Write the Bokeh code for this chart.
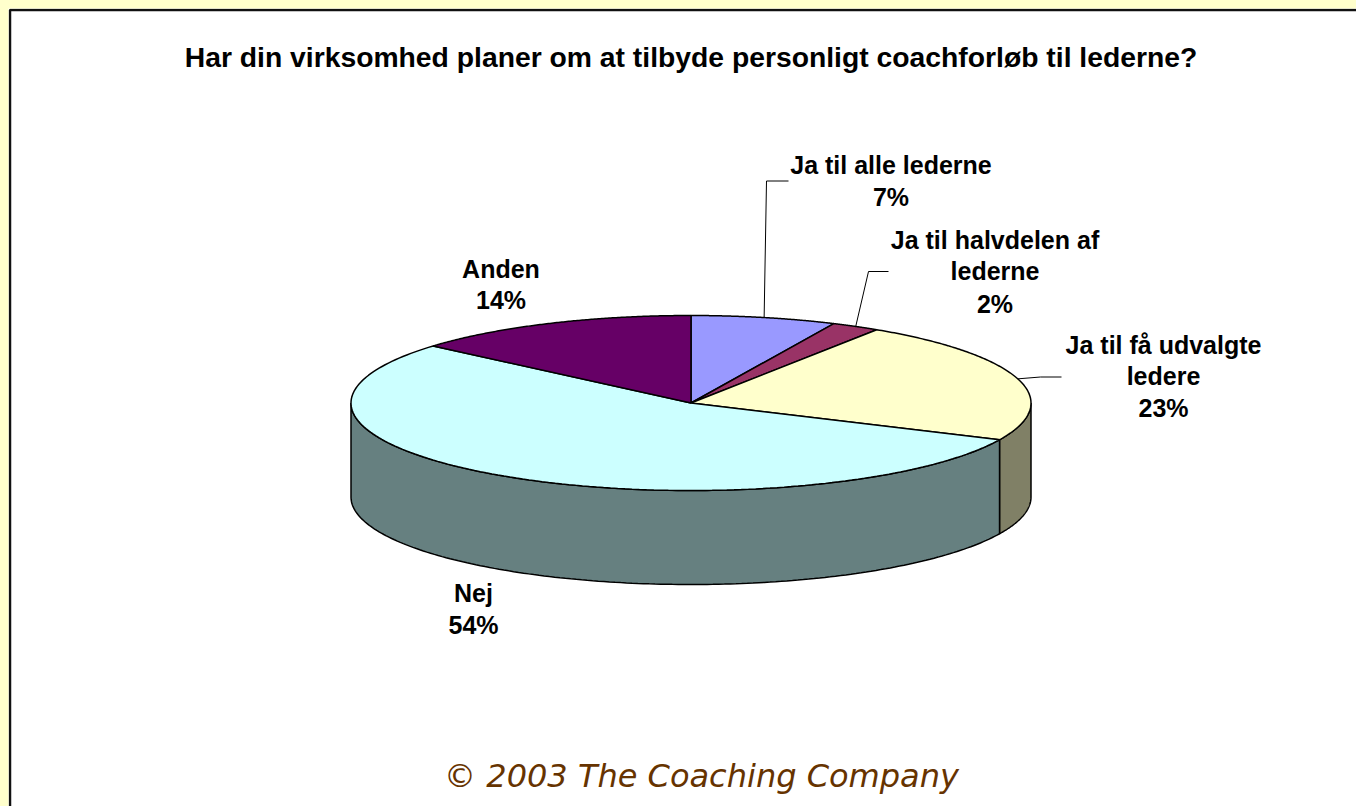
import numpy as np
from bokeh.plotting import figure
from bokeh.models import Range1d
from bokeh.core.properties import value
from bokeh.embed import file_html
from bokeh.resources import INLINE

# --- data (clockwise from 12 o'clock) ---
categories = ["Ja til alle lederne", "Ja til halvdelen af lederne", "Ja til få udvalgte ledere", "Nej", "Anden"]
slice_values = [6.9, 2.3, 22.7, 54.4, 13.7]
top_colors = ["#9999FF", "#993366", "#FFFFCC", "#CCFFFF", "#660066"]
side_colors = ["#4D4D80", "#4D1A33", "#808066", "#668080", "#330033"]
label_lines = [["Ja til alle lederne", "7%"], ["Ja til halvdelen af", "lederne", "2%"],
               ["Ja til få udvalgte", "ledere", "23%"], ["Nej", "54%"], ["Anden", "14%"]]
title = "Har din virksomhed planer om at tilbyde personligt coachforløb til lederne?"
footer = "© 2003 The Coaching Company"

# --- layout (data space equals page pixels) ---
CX, CY, RX, RY, DEPTH = 690.5, 402.5, 340, 87.5, 94
label_x = [890.5, 994.5, 1163, 473, 500.5]
label_y = [[164, 196], [239.5, 270.5, 303], [344, 375, 407], [592, 624], [268, 299]]
elbows = {0: [(766, 180.5), (788, 180.5)], 1: [(868, 271), (888, 271)], 2: [(1040, 376.5), (1061, 376.5)]}

p = figure(width=1348, height=798, x_range=Range1d(8, 1356), y_range=Range1d(806, 8),
           output_backend="svg", toolbar_location=None, min_border=0,
           x_axis_location=None, y_axis_location=None, background_fill_color="white",
           border_fill_color="white", outline_line_color=None)
p.grid.visible = False


def ex(t):
    return CX + RX * np.sin(t)


def ey(t):
    return CY - RY * np.cos(t)


edges = np.cumsum([0] + slice_values) / sum(slice_values) * 2 * np.pi

# sides: only the front half (pi/2 .. 3pi/2) of the rim is visible
for a, b, c in zip(edges[:-1], edges[1:], side_colors):
    lo, hi = max(a, np.pi / 2), min(b, 3 * np.pi / 2)
    if lo >= hi:
        continue
    t = np.linspace(lo, hi, 160)
    xs = np.r_[ex(t), ex(t[::-1])]
    ys = np.r_[ey(t), ey(t[::-1]) + DEPTH]
    p.patch(xs, ys, fill_color=c, line_color="black", line_width=1.5)

# top face
for a, b, c in zip(edges[:-1], edges[1:], top_colors):
    t = np.linspace(a, b, 160)
    p.patch(np.r_[CX, ex(t)], np.r_[CY, ey(t)], fill_color=c, line_color="black", line_width=1.5)

# leader lines
mids = (edges[:-1] + edges[1:]) / 2
for i, pts in elbows.items():
    xs = [ex(mids[i])] + [q[0] for q in pts]
    ys = [ey(mids[i])] + [q[1] for q in pts]
    p.line(xs, ys, line_color="black", line_width=1)

# frame
p.line([9.5, 9.5, 1356], [806, 9.5, 9.5], line_color="#111111", line_width=2.5)

font = value("Liberation Sans")
for x, lines, ys in zip(label_x, label_lines, label_y):
    p.text([x] * len(lines), ys, text=lines, text_font=font, text_font_size="25px", text_font_style="bold",
           text_color="black", text_align="center", text_baseline="middle")
p.text([690.5], [56.5], text=[title], text_font=font, text_font_size="28.3px", text_font_style="bold",
       text_color="black", text_align="center", text_baseline="middle")
p.text([701], [775], text=[footer], text_font=value("DejaVu Sans"), text_font_size="32px", text_font_style="italic",
       text_color="#663300", text_align="center", text_baseline="middle")

html = file_html(p, INLINE)
html = html.replace("</head>", "<style>html,body{background:#FFFFCC !important;overflow:hidden !important}"
                    "body{margin:8px 0 0 8px !important}</style></head>", 1)
open("out.html", "w").write(html)
